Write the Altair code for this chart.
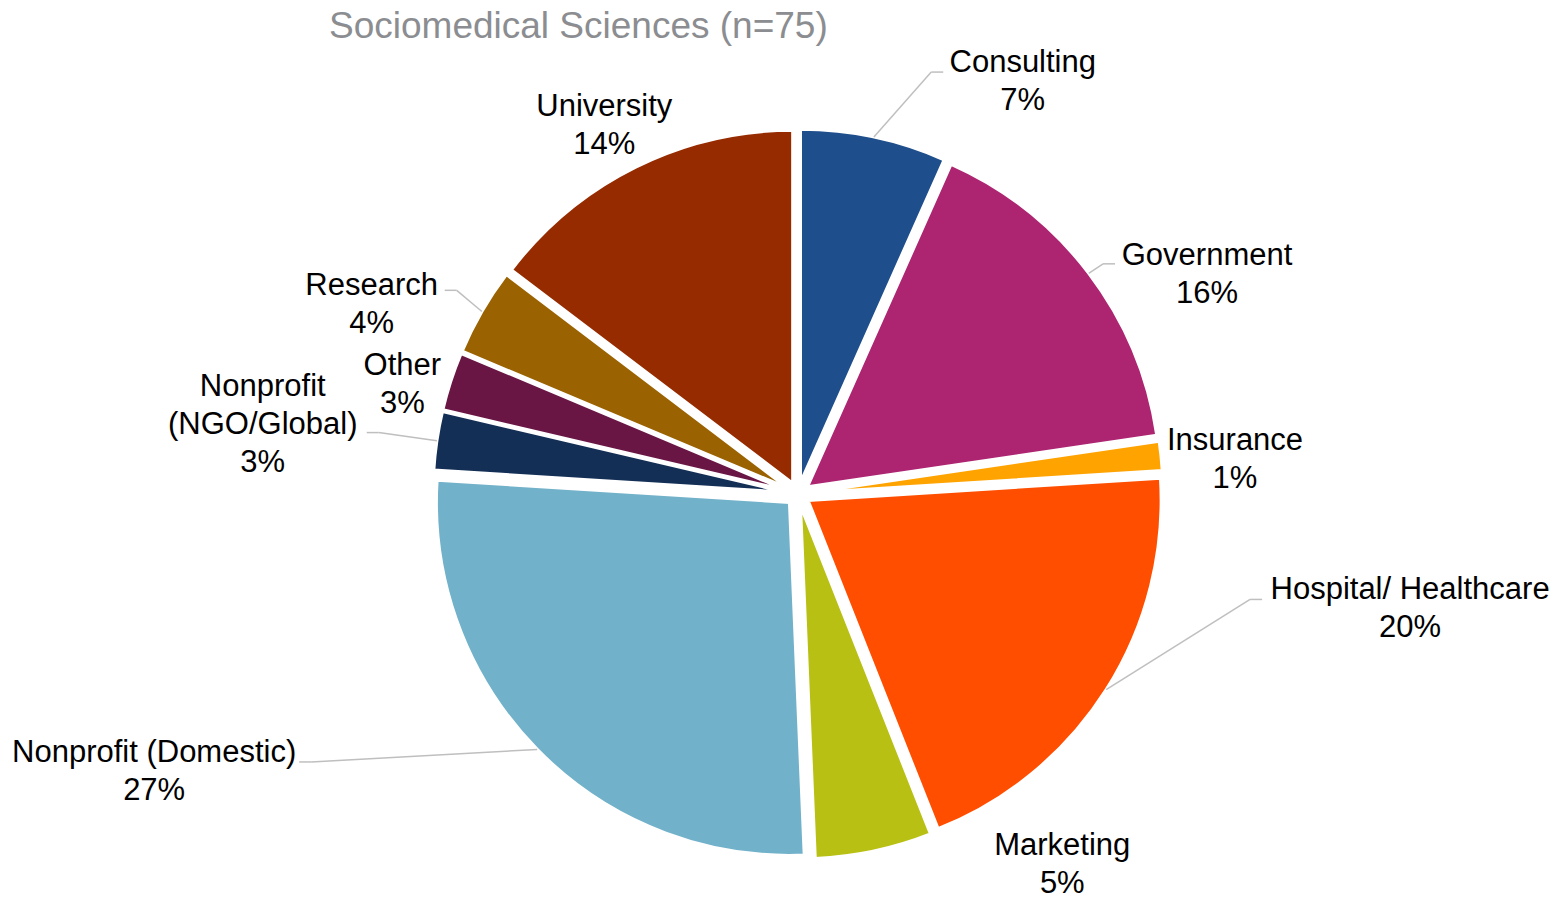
import altair as alt
import pandas as pd

# ---------------- data ----------------
title_text = "Sociomedical Sciences (n=75)"
categories = ["Consulting", "Government", "Insurance", "Hospital/ Healthcare", "Marketing",
              "Nonprofit (Domestic)", "Nonprofit (NGO/Global)", "Other", "Research", "University"]
label_names = ["Consulting", "Government", "Insurance", "Hospital/ Healthcare", "Marketing",
               "Nonprofit (Domestic)", "Nonprofit\n(NGO/Global)", "Other", "Research", "University"]
counts = [5, 12, 1, 15, 4, 20, 2, 2, 3, 11]
pct_labels = ["7%", "16%", "1%", "20%", "5%", "27%", "3%", "3%", "4%", "14%"]
colors = ["#1F4E8C", "#AD2471", "#FFA300", "#FF4E00", "#B8C013",
          "#71B1CA", "#142F56", "#6A1645", "#9A6200", "#962B00"]

# ---------------- layout (not data) ----------------
CX, CY = 790, 486      # pie centre inside the plot area, px
R = 353                # outer radius, px
EXPLODE = 12           # slice explosion distance, px
LINE_H = 38
label_shift = [16.5, 8.8, 1.3, -21.9, -23.6, 21.2, -0.8, -2.3, -5.9, -1.2]   # deg from slice middle
label_radius = [471, 465, 438.5, 622.5, 454, 700.5, 540, 411, 467, 418]
has_leader = [1, 1, 0, 1, 0, 1, 1, 0, 1, 0]
leader_dx = [-79.5, -92, 0, -148, 0, 145, 104, 0, 73, 0]
leader_dy = [-8, -9, 0, -8, 0, -8, 10, 0, -13, 0]

df = pd.DataFrame({
    "category": categories,
    "n": counts,
    "label": [f"{a}\n{b}" for a, b in zip(label_names, pct_labels)],
    "order": list(range(len(categories))),
    "shift": label_shift,
    "lr": label_radius,
    "leader": has_leader,
    "ldx": leader_dx,
    "ldy": leader_dy,
})

base = (
    alt.Chart(df)
    .transform_joinaggregate(total="sum(n)")
    .transform_window(cum="sum(n)", sort=[alt.SortField("order")], frame=[None, 0])
    .transform_calculate(mid="(datum.cum - datum.n / 2) / datum.total * 2 * PI")
    .transform_calculate(ex=f"{CX} + {EXPLODE} * sin(datum.mid)")
    .transform_calculate(ey=f"{CY} - {EXPLODE} * cos(datum.mid)")
    .transform_calculate(la="datum.mid + datum.shift * PI / 180")
    .transform_calculate(tx=f"{CX} + datum.lr * sin(datum.la)")
    .transform_calculate(tc=f"{CY} - datum.lr * cos(datum.la)")
    .transform_calculate(nl="length(split(datum.label, '\\n'))")
    .transform_calculate(ty=f"datum.tc + 2 - (datum.nl - 1) * {LINE_H} / 2")
    .transform_calculate(sx=f"datum.ex + {R} * sin(datum.mid)")
    .transform_calculate(sy=f"datum.ey - {R} * cos(datum.mid)")
    .transform_calculate(endx="datum.tx + datum.ldx")
    .transform_calculate(endy="datum.tc + datum.ldy")
    .transform_calculate(elbx="datum.endx + (datum.ldx < 0 ? -12 : 12)")
)

arcs = base.mark_arc(outerRadius=R, stroke="white", strokeWidth=3).encode(
    theta=alt.Theta("n:Q", stack=True),
    order=alt.Order("order:Q"),
    color=alt.Color("category:N", scale=alt.Scale(domain=categories, range=colors), legend=None),
    x=alt.X("ex:Q", scale=None),
    y=alt.Y("ey:Q", scale=None),
)

leaders = base.transform_filter("datum.leader == 1")
seg1 = leaders.mark_rule(color="#BFBFBF", strokeWidth=1.5).encode(
    x=alt.X("sx:Q", scale=None), y=alt.Y("sy:Q", scale=None),
    x2="elbx:Q", y2="endy:Q",
)
seg2 = leaders.mark_rule(color="#BFBFBF", strokeWidth=1.5).encode(
    x=alt.X("elbx:Q", scale=None), y=alt.Y("endy:Q", scale=None),
    x2="endx:Q", y2="endy:Q",
)

texts = base.mark_text(
    font="Liberation Sans", fontSize=31, lineBreak="\n", lineHeight=LINE_H,
    align="center", baseline="middle", color="#000000",
).encode(
    x=alt.X("tx:Q", scale=None),
    y=alt.Y("ty:Q", scale=None),
    text="label:N",
)

title = alt.Chart(pd.DataFrame({"t": [title_text]})).mark_text(
    font="Liberation Sans", fontSize=37, align="left", baseline="alphabetic", color="#8B8D91",
).encode(x=alt.value(321), y=alt.value(30), text="t:N")

chart = (
    alt.layer(arcs, seg1, seg2, texts, title)
    .properties(width=1544, height=888, padding=0, autosize="none")
    .configure_view(stroke=None)
)

chart.save("out.html", embed_options={"renderer": "svg", "actions": False})
